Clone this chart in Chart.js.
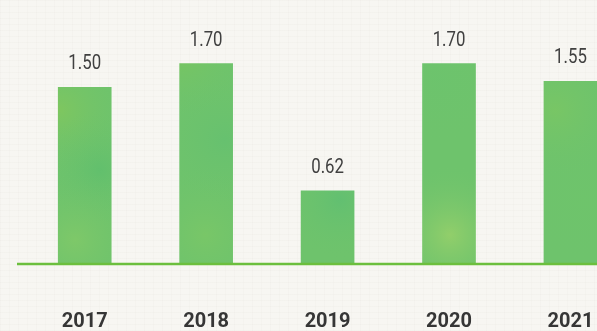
<!DOCTYPE html>
<html>
<head>
<meta charset="utf-8">
<script src="https://cdn.jsdelivr.net/npm/chart.js@4"></script>
<style>
	html, body {
		margin: 0;
		padding: 0;
		overflow: hidden;
		width: 597px;
		height: 331px;
		background-color: #f7f6f2;
		background-image:
			repeating-linear-gradient(0deg, rgba(190,182,172,0.06) 0 1px, transparent 1px 6px),
			repeating-linear-gradient(90deg, rgba(190,182,172,0.05) 0 1px, transparent 1px 9px);
	}
	canvas { display: block; }
</style>
</head>
<body>
<canvas id="myChart" width="640" height="331"></canvas>
<script>
const years = ["2017", "2018", "2019", "2020", "2021"]
const values = [1.50, 1.70, 0.62, 1.70, 1.55]

// soft watercolor green, reused as a pattern for every bar
function makeWash() {
	const c = document.createElement("canvas")
	c.width = 640
	c.height = 331
	const g = c.getContext("2d")
	g.fillStyle = "#6ec36c"
	g.fillRect(0, 0, c.width, c.height)
	const blobs = [
		[60, 110, 70, "rgba(145,202,80,0.45)"],
		[100, 170, 60, "rgba(75,185,110,0.35)"],
		[75, 240, 70, "rgba(150,208,100,0.4)"],
		[180, 50, 70, "rgba(135,200,80,0.45)"],
		[225, 140, 70, "rgba(85,188,118,0.3)"],
		[205, 235, 70, "rgba(140,205,95,0.35)"],
		[340, 200, 60, "rgba(80,186,120,0.4)"],
		[440, 80, 70, "rgba(105,196,110,0.3)"],
		[450, 235, 70, "rgba(175,216,105,0.55)"],
		[555, 110, 70, "rgba(135,202,90,0.4)"],
		[585, 200, 70, "rgba(110,198,105,0.3)"]
	]
	blobs.forEach(([x, y, r, col]) => {
		const rg = g.createRadialGradient(x, y, 0, x, y, r)
		rg.addColorStop(0, col)
		rg.addColorStop(1, "rgba(110,195,108,0)")
		g.fillStyle = rg
		g.fillRect(x - r, y - r, r * 2, r * 2)
	})
	return c
}

const valueLabels = {
	id: "valueLabels",
	afterDatasetsDraw(chart) {
		const ctx = chart.ctx
		const meta = chart.getDatasetMeta(0)
		ctx.save()
		ctx.font = "20px Roboto, sans-serif"
		ctx.fillStyle = "#404040"
		ctx.textAlign = "center"
		ctx.textBaseline = "alphabetic"
		meta.data.forEach((bar, i) => {
			// narrow the figures a bit
			ctx.save()
			ctx.translate(bar.x, bar.y - 18)
			ctx.scale(0.84, 1)
			ctx.fillText(values[i].toFixed(2), 0, 0)
			ctx.restore()
		})
		ctx.restore()
	}
}

// green ground line under the bars
const groundLine = {
	id: "groundLine",
	afterDatasetsDraw(chart) {
		const ctx = chart.ctx
		const y = chart.scales.y.getPixelForValue(0)
		ctx.save()
		ctx.strokeStyle = "#6cbf3e"
		ctx.lineWidth = 2.5
		ctx.beginPath()
		ctx.moveTo(17, y)
		ctx.lineTo(chart.width, y)
		ctx.stroke()
		ctx.restore()
	}
}

const canvas = document.getElementById("myChart")
const wash = canvas.getContext("2d").createPattern(makeWash(), "no-repeat")

new Chart(canvas, {
	type: "bar",
	data: {
		labels: years,
		datasets: [
			{
				data: values,
				backgroundColor: wash,
				borderWidth: 0,
				barThickness: 53
			}
		]
	},
	options: {
		responsive: false,
		animation: false,
		layout: {
			padding: { left: 24, right: 6, top: 0, bottom: 0 }
		},
		plugins: {
			legend: { display: false },
			tooltip: { enabled: false }
		},
		scales: {
			x: {
				grid: { display: false, drawTicks: false },
				border: { display: false },
				afterFit: (scale) => { scale.height = 67 },
				ticks: {
					padding: 46,
					color: "#363636",
					font: { family: "Roboto", size: 20, weight: "bold" }
				}
			},
			y: {
				display: false,
				min: 0,
				max: 2.24
			}
		}
	},
	plugins: [valueLabels, groundLine]
})
</script>
</body>
</html>
